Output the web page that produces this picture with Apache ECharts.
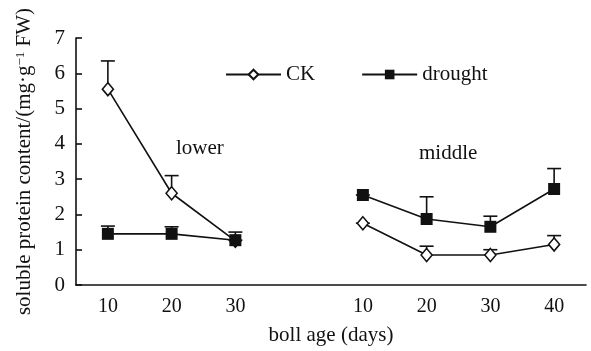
<!DOCTYPE html>
<html>
<head>
<meta charset="utf-8">
<script src="https://cdn.jsdelivr.net/npm/echarts@6/dist/echarts.min.js"></script>
<style>
html,body{margin:0;padding:0;background:#fff;}
#c{width:591px;height:351px;}
</style>
</head>
<body>
<div id="c"></div>
<script>
// categories (index 3 is the gap between groups)
var categories = ['L10', 'L20', 'L30', 'gap', 'M10', 'M20', 'M30', 'M40'];
var tickLabels = ['10', '20', '30', '', '10', '20', '30', '40'];
var yTicks = [0, 1, 2, 3, 4, 5, 6, 7];

// series values
var ckValues      = [5.55, 2.60, 1.25, '-', 1.75, 0.85, 0.85, 1.15];
var ckUpper       = [6.35, 3.10, 1.50, '-', 1.75, 1.10, 1.00, 1.40];
var droughtValues = [1.45, 1.45, 1.27, '-', 2.55, 1.87, 1.65, 2.72];
var droughtUpper  = [1.67, 1.65, 1.27, '-', 2.55, 2.50, 1.95, 3.30];

var groupLabels = ['lower', 'middle'];

function errData(vals, ups) {
  var out = [];
  for (var i = 0; i < vals.length; i++) {
    if (vals[i] === '-') continue;
    out.push([i, vals[i], ups[i]]);
  }
  return out;
}

function errRender(params, api) {
  var x = api.value(0), v = api.value(1), u = api.value(2);
  var p0 = api.coord([x, v]);
  var p1 = api.coord([x, u]);
  var hw = 7;
  var st = {stroke: '#111', lineWidth: 1.6, fill: null};
  return {
    type: 'group',
    children: [
      {type: 'line', shape: {x1: p0[0], y1: p0[1], x2: p1[0], y2: p1[1]}, style: st},
      {type: 'line', shape: {x1: p1[0] - hw, y1: p1[1], x2: p1[0] + hw, y2: p1[1]}, style: st}
    ]
  };
}

var font = '"Liberation Serif", "Times New Roman", serif';
var chart = echarts.init(document.getElementById('c'), null, {renderer: 'canvas'});
chart.setOption({
  animation: false,
  backgroundColor: '#fff',
  textStyle: {fontFamily: font, color: '#111'},
  grid: {left: 76, right: 5, top: 38, bottom: 64, containLabel: false},
  legend: {
    left: 220, top: 59,
    itemWidth: 55, itemHeight: 12, itemGap: 46,
    textStyle: {fontFamily: font, fontSize: 21, color: '#111'},
    data: ['CK', 'drought']
  },
  xAxis: {
    type: 'category',
    data: categories,
    boundaryGap: true,
    name: 'boll age (days)',
    nameLocation: 'middle',
    nameGap: 40,
    nameTextStyle: {fontFamily: font, fontSize: 21, color: '#111'},
    axisLine: {lineStyle: {color: '#111', width: 1.6}},
    axisTick: {inside: true, length: 6, lineStyle: {color: '#111', width: 1.6}},
    axisLabel: {
      fontFamily: font, fontSize: 20, color: '#111', margin: 12,
      formatter: function (v, i) { return tickLabels[i]; }
    },
    splitLine: {show: false}
  },
  yAxis: {
    type: 'value',
    min: yTicks[0], max: yTicks[yTicks.length - 1], interval: 1,
    name: 'soluble protein content/(mg·g{s|−1} FW)',
    nameLocation: 'middle',
    nameGap: 41,
    nameRotate: 90,
    nameTextStyle: {
      fontFamily: font, fontSize: 21, color: '#111',
      rich: {s: {fontFamily: font, fontSize: 13, color: '#111', verticalAlign: 'top', padding: [0, 0, 8, 0]}}
    },
    axisLine: {show: true, lineStyle: {color: '#111', width: 1.6}},
    axisTick: {show: true, inside: true, length: 6, lineStyle: {color: '#111', width: 1.6}},
    axisLabel: {fontFamily: font, fontSize: 21, color: '#111', margin: 11},
    splitLine: {show: false}
  },
  graphic: [
    {type: 'text', left: 176, top: 138, style: {text: groupLabels[0], font: '21px ' + font, fill: '#111'}},
    {type: 'text', left: 419, top: 143, style: {text: groupLabels[1], font: '21px ' + font, fill: '#111'}}
  ],
  series: [
    {
      name: 'CK-err', type: 'custom', renderItem: errRender,
      data: errData(ckValues, ckUpper), z: 1, silent: true
    },
    {
      name: 'drought-err', type: 'custom', renderItem: errRender,
      data: errData(droughtValues, droughtUpper), z: 1, silent: true
    },
    {
      name: 'CK', type: 'line', data: ckValues, connectNulls: false,
      symbol: 'diamond', symbolSize: [11, 13],
      lineStyle: {color: '#111', width: 1.6},
      itemStyle: {color: '#fff', borderColor: '#111', borderWidth: 1.6},
      z: 3
    },
    {
      name: 'drought', type: 'line', data: droughtValues, connectNulls: false,
      symbol: 'rect', symbolSize: 12,
      lineStyle: {color: '#111', width: 1.6},
      itemStyle: {color: '#111', borderColor: '#111', borderWidth: 0},
      z: 4
    }
  ]
});
</script>
</body>
</html>
